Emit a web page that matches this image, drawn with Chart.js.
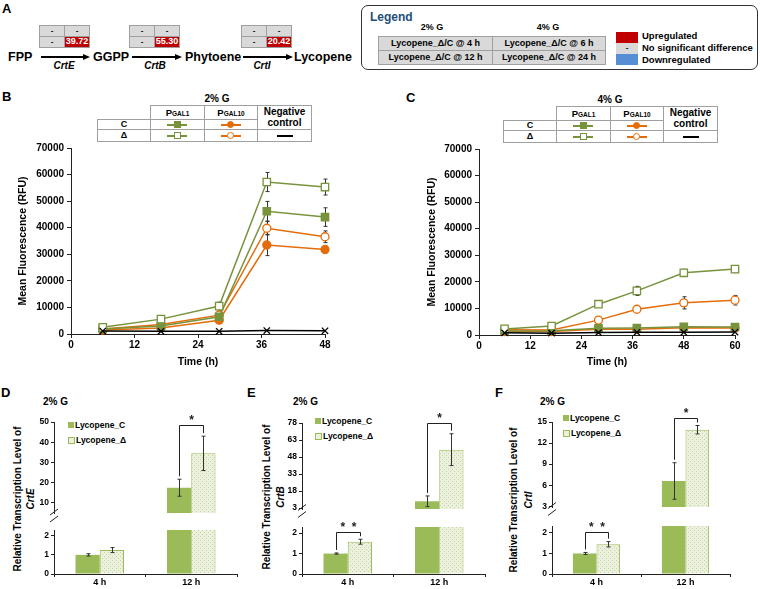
<!DOCTYPE html>
<html>
<head>
<meta charset="utf-8">
<script src="https://cdn.jsdelivr.net/npm/chart.js"></script>
<style>
body { margin: 0; background: #fff; }
#lamina { position: relative; width: 760px; height: 589px; overflow: hidden; font-family: 'Liberation Sans', Arial, sans-serif; color: #000; }
canvas { position: absolute; }
</style>
</head>
<body>
<div id="lamina"></div>
<script>
// ---- datos panel A
var sustratos = ['FPP', 'GGPP', 'Phytoene', 'Lycopene']
var genes = ['CrtE', 'CrtB', 'CrtI']
var cambios = ['39.72', '55.30', '20.42']

// ---- datos panel B (2% G)
var tiempoB = [6, 17, 28, 37, 48]
var gal1C_B = [1900, 3000, 6500, 46200, 44000]
var gal1C_Berr = [200, 300, 700, 3700, 3500]
var gal1D_B = [2500, 5600, 10500, 57200, 55300]
var gal1D_Berr = [300, 500, 1500, 3600, 3000]
var gal10C_B = [1500, 2300, 5200, 33500, 31800]
var gal10C_Berr = [200, 300, 600, 4000, 1300]
var gal10D_B = [1900, 3600, 7100, 39800, 36600]
var gal10D_Berr = [200, 400, 800, 2500, 2200]
var neg_B = [1100, 1000, 1000, 1300, 1200]
var marcasTiempoB = [0, 12, 24, 36, 48]

// ---- datos panel C (4% G)
var tiempoC = [6, 17, 28, 37, 48, 60]
var gal1C_C = [1500, 1600, 2500, 2600, 3100, 3000]
var gal1C_Cerr = [200, 200, 300, 300, 400, 300]
var gal1D_C = [2300, 3400, 11600, 16600, 23400, 24800]
var gal1D_Cerr = [300, 400, 700, 1700, 1300, 1300]
var gal10C_C = [1300, 1300, 2200, 2200, 2700, 2600]
var gal10C_Cerr = [200, 200, 300, 300, 300, 300]
var gal10D_C = [2000, 1900, 5600, 9700, 12100, 13100]
var gal10D_Cerr = [200, 200, 500, 800, 2300, 1800]
var neg_C = [800, 700, 900, 1000, 1000, 1100]
var marcasTiempoC = [0, 12, 24, 36, 48, 60]
var marcasRFU = [0, 10000, 20000, 30000, 40000, 50000, 60000, 70000]

// ---- datos paneles D, E, F (transcripcion relativa)
var muestras = ['4 h', '12 h']
var crtE_C = [1.0, 17.5]
var crtE_Cerr = [0.06, 4.2]
var crtE_D = [1.25, 34.5]
var crtE_Derr = [0.13, 8.5]
var crtE_sig = ['', '*']
var crtE_nivel = [null, 48.7]
var crtE_ticksSup = [10, 20, 30, 40, 50]

var crtB_C = [1.0, 9.0]
var crtB_Cerr = [0.03, 4.7]
var crtB_D = [1.58, 54.5]
var crtB_Derr = [0.12, 14]
var crtB_sig = ['*  *', '*']
var crtB_nivel = [2.06, 78]
var crtB_ticksSup = [3, 18, 33, 48, 63, 78]

var crtI_C = [1.0, 6.6]
var crtI_Cerr = [0.05, 2.6]
var crtI_D = [1.45, 13.9]
var crtI_Derr = [0.13, 0.6]
var crtI_sig = ['*  *', '*']
var crtI_nivel = [2.05, 15.6]
var crtI_ticksSup = [3, 6, 9, 12, 15]

var ticksInf = [0, 1, 2]

var verde = '#77933c'
var naranja = '#e46c0a'
var verdeBarra = '#9bbb59'
var ejeColor = '#222'

var lamina = document.getElementById('lamina')

Chart.defaults.font.family = "'Liberation Sans', Arial, sans-serif"
Chart.defaults.font.weight = 'bold'
Chart.defaults.color = '#000'
Chart.defaults.animation = false

// ---------- ayudas de maquetado
function caja(x, y, w, h, css) {
    var d = document.createElement('div')
    d.style.cssText = 'position:absolute;box-sizing:border-box;left:' + x + 'px;top:' + y + 'px;width:' + w + 'px;height:' + h + 'px;' + (css || '')
    lamina.appendChild(d)
    return d
}

function texto(html, x, y, size, css, centrado) {
    var d = document.createElement('div')
    d.innerHTML = html
    d.style.cssText = 'position:absolute;white-space:nowrap;font-weight:bold;font-size:' + size + 'px;line-height:' + size + 'px;left:' + x + 'px;top:' + (y - size / 2) + 'px;' + (centrado ? 'transform:translateX(-50%);' : '') + (css || '')
    lamina.appendChild(d)
    return d
}

function textoVertical(html, x, y, size, css) {
    var d = document.createElement('div')
    d.innerHTML = html
    d.style.cssText = 'position:absolute;white-space:nowrap;font-weight:bold;font-size:' + size + 'px;line-height:' + size + 'px;left:' + x + 'px;top:' + y + 'px;transform:translate(-50%,-50%) rotate(-90deg);' + (css || '')
    lamina.appendChild(d)
}

function celda(x, y, w, h, html, fondo, color, size, borde) {
    var d = caja(x, y, w, h, 'border:1px solid ' + (borde || '#a0a0a0') + ';background:' + fondo + ';color:' + (color || '#000') + ';display:flex;align-items:center;justify-content:center;font-weight:bold;font-size:' + (size || 8) + 'px;line-height:1.05;text-align:center')
    d.innerHTML = html
    return d
}

function flecha(x1, x2, y) {
    caja(x1, y - 0.75, x2 - x1 - 6, 1.5, 'background:#000')
    var p = document.createElement('div')
    p.style.cssText = 'position:absolute;left:' + (x2 - 7) + 'px;top:' + (y - 3.5) + 'px;width:0;height:0;border-left:7px solid #000;border-top:3.5px solid transparent;border-bottom:3.5px solid transparent'
    lamina.appendChild(p)
}

// ---------- panel A
texto('A', 2, 8, 13)
var tablaX = [39, 129, 241]
var flechaX = [[41, 90], [132, 182], [243, 293]]
var genX = [64, 155, 262]
var sustratoX = [8, 93, 185, 294]
sustratos.forEach(function (s, i) { texto(s, sustratoX[i], 57, 12.5) })
genes.forEach(function (g, i) {
    var tx = tablaX[i]
    celda(tx, 25, 26, 12, '-', '#d9d9d9')
    celda(tx + 25, 25, 26, 12, '-', '#d9d9d9')
    celda(tx, 36, 26, 12, '-', '#d9d9d9')
    celda(tx + 25, 36, 26, 12, cambios[i], '#c00000', '#fff', 9, '#a0a0a0')
    flecha(flechaX[i][0], flechaX[i][1], 57)
    texto(g, genX[i], 66, 10, 'font-style:italic', true)
})

// ---------- leyenda general
caja(361, 5, 397, 65, 'border:1.5px solid #333;border-radius:7px')
texto('Legend', 370, 17, 12, 'color:#1f4e79')
texto('2% G', 432, 27, 9, '', true)
texto('4% G', 548, 27, 9, '', true)
celda(378, 36, 115, 15, 'Lycopene_Δ/C @ 4 h', '#d9d9d9', '#000', 9)
celda(492, 36, 114, 15, 'Lycopene_Δ/C @ 6 h', '#d9d9d9', '#000', 9)
celda(378, 50, 115, 15, 'Lycopene_Δ/C @ 12 h', '#d9d9d9', '#000', 9)
celda(492, 50, 114, 15, 'Lycopene_Δ/C @ 24 h', '#d9d9d9', '#000', 9)
caja(616, 32, 22, 11, 'background:#c00000')
celda(616, 43, 22, 11, '-', '#d9d9d9', '#000', 8, '#d9d9d9')
caja(616, 54, 22, 11, 'background:#558ed5')
texto('Upregulated', 642, 36, 9.5)
texto('No significant difference', 642, 48, 9.5)
texto('Downregulated', 642, 60, 9.5)

// ---------- tablas de leyenda B y C
function marcaSerie(cx, cy, color, forma, relleno) {
    caja(cx - 10, cy - 1, 20, 2, 'background:' + color)
    caja(cx - 3.5, cy - 3.5, 7, 7, 'background:' + relleno + ';border:1.3px solid ' + color + (forma == 'circulo' ? ';border-radius:50%' : ''))
}

function tablaLeyenda(x0, y0, titulo, tituloX) {
    var a = [53, 54, 53, 55], h = [14, 10, 13]
    var xs = [x0, x0 + 53, x0 + 107, x0 + 160]
    var ys = [y0, y0 + 14, y0 + 24]
    texto(titulo, tituloX, y0 - 6, 10, '', true)
    var sub = function (t) { return 'P<span style="font-size:6.5px;position:relative;top:2px">' + t + '</span>' }
    celda(xs[0], ys[1], a[0] + 1, h[1] + 1, 'C', '#fff', '#000', 9)
    celda(xs[0], ys[2], a[0] + 1, h[2], 'Δ', '#fff', '#000', 9)
    celda(xs[1], ys[0], a[1] + 1, h[0] + 1, sub('GAL1'), '#fff', '#000', 9.5)
    celda(xs[2], ys[0], a[2] + 1, h[0] + 1, sub('GAL10'), '#fff', '#000', 9.5)
    celda(xs[3], ys[0], a[3], h[0] + h[1] + 1, 'Negative<br>control', '#fff', '#000', 10)
    celda(xs[1], ys[1], a[1] + 1, h[1] + 1, '', '#fff')
    celda(xs[2], ys[1], a[2] + 1, h[1] + 1, '', '#fff')
    celda(xs[1], ys[2], a[1] + 1, h[2], '', '#fff')
    celda(xs[2], ys[2], a[2] + 1, h[2], '', '#fff')
    celda(xs[3], ys[2], a[3], h[2], '', '#fff')
    var c1 = xs[1] + a[1] / 2, c2 = xs[2] + a[2] / 2, c3 = xs[3] + a[3] / 2
    var f1 = ys[1] + h[1] / 2 + 0.5, f2 = ys[2] + h[2] / 2
    marcaSerie(c1, f1, verde, 'cuadro', verde)
    marcaSerie(c1, f2, verde, 'cuadro', '#fff')
    marcaSerie(c2, f1, naranja, 'circulo', naranja)
    marcaSerie(c2, f2, naranja, 'circulo', '#fff')
    caja(c3 - 8, f2 - 1, 16, 2, 'background:#000')
}

texto('B', 2, 96, 13)
texto('C', 406, 97, 13)
tablaLeyenda(97, 105, '2% G', 217)
tablaLeyenda(503, 106, '4% G', 610)

// ---------- plugins
function dibujarErrores(chart) {
    var ctx = chart.ctx, area = chart.chartArea, ejeY = chart.scales.y
    ctx.save()
    ctx.beginPath()
    ctx.rect(area.left - 6, area.top - 1, area.right - area.left + 12, area.bottom - area.top + 1)
    ctx.clip()
    ctx.strokeStyle = '#333'
    ctx.lineWidth = 1
    chart.data.datasets.forEach(function (ds, i) {
        if (!ds.errores) return
        var meta = chart.getDatasetMeta(i)
        meta.data.forEach(function (el, j) {
            var v = typeof ds.data[j] == 'object' ? ds.data[j].y : ds.data[j]
            var e = ds.errores[j]
            var x = Math.round(el.x) + 0.5
            var y1 = ejeY.getPixelForValue(v + e), y2 = ejeY.getPixelForValue(v - e)
            ctx.beginPath()
            ctx.moveTo(x, y1); ctx.lineTo(x, y2)
            ctx.moveTo(x - 2, y1); ctx.lineTo(x + 2, y1)
            ctx.moveTo(x - 2, y2); ctx.lineTo(x + 2, y2)
            ctx.stroke()
        })
    })
    ctx.restore()
}

var barrasError = {
    id: 'barrasError',
    beforeDatasetsDraw: function (chart, args, op) { if (!op.encima) dibujarErrores(chart) },
    afterDatasetsDraw: function (chart, args, op) { if (op.encima) dibujarErrores(chart) }
}

var corchetes = {
    id: 'corchetes',
    afterDatasetsDraw: function (chart, args, op) {
        if (!op.marcas) return
        var ctx = chart.ctx, ejeY = chart.scales.y, area = chart.chartArea
        var d0 = chart.data.datasets[0], d1 = chart.data.datasets[1]
        var m0 = chart.getDatasetMeta(0), m1 = chart.getDatasetMeta(1)
        ctx.save()
        ctx.strokeStyle = '#222'
        ctx.fillStyle = '#222'
        ctx.lineWidth = 1
        ctx.font = "bold 12px 'Liberation Sans', Arial"
        ctx.textAlign = 'center'
        op.marcas.forEach(function (s, j) {
            var nivel = op.niveles[j]
            if (!s) return
            if (op.parte == 'sup' && nivel < ejeY.min) return
            if (op.parte == 'inf' && nivel > ejeY.max) return
            var yn = Math.round(ejeY.getPixelForValue(nivel)) + 0.5
            var xa = Math.round(m0.data[j].x) + 0.5, xb = Math.round(m1.data[j].x) + 0.5
            var ya = Math.min(ejeY.getPixelForValue(d0.data[j] + d0.errores[j]) - 3, area.bottom)
            var yb = Math.min(ejeY.getPixelForValue(d1.data[j] + d1.errores[j]) - 3, area.bottom)
            ctx.beginPath()
            ctx.moveTo(xa, ya); ctx.lineTo(xa, yn); ctx.lineTo(xb, yn); ctx.lineTo(xb, yb)
            ctx.stroke()
            ctx.fillText(s, (xa + xb) / 2, yn - 2)
        })
        ctx.restore()
    }
}

var grieta = {
    id: 'grieta',
    afterDraw: function (chart, args, op) {
        if (!op.hueco) return
        var ctx = chart.ctx, x = chart.chartArea.left, c = chart.chartArea.bottom + op.hueco / 2
        ctx.save()
        ctx.strokeStyle = ejeColor
        ctx.lineWidth = 1
        ctx.beginPath()
        ctx.moveTo(x - 4, c - 1); ctx.lineTo(x + 4, c - 7)
        ctx.moveTo(x - 4, c + 6); ctx.lineTo(x + 4, c)
        ctx.stroke()
        ctx.restore()
    }
}

function crearLienzo(x, y, w, h) {
    var c = document.createElement('canvas')
    c.width = w
    c.height = h
    c.style.left = x + 'px'
    c.style.top = y + 'px'
    c.style.width = w + 'px'
    c.style.height = h + 'px'
    lamina.appendChild(c)
    return c
}

// ---------- graficas de lineas B y C
function serie(tiempos, valores, errores, color, forma, relleno, radio) {
    return {
        data: tiempos.map(function (t, i) { return { x: t, y: valores[i] } }),
        errores: errores,
        borderColor: color,
        backgroundColor: relleno,
        pointBackgroundColor: relleno,
        pointBorderColor: color,
        pointStyle: forma,
        pointRadius: radio,
        pointBorderWidth: 1.3,
        borderWidth: 1.5,
        clip: false
    }
}

function graficaLineas(cj, area, series, marcasX, padTitulo) {
    var lienzo = crearLienzo(cj[0], cj[1], cj[2], cj[3])
    return new Chart(lienzo, {
        type: 'line',
        data: { datasets: series },
        options: {
            responsive: false,
            layout: { padding: { left: 0, top: area[1] - cj[1], right: cj[0] + cj[2] - area[2], bottom: 0 } },
            plugins: { legend: { display: false }, tooltip: { enabled: false }, barrasError: { encima: false } },
            scales: {
                x: {
                    type: 'linear', min: marcasX[0], max: marcasX[marcasX.length - 1],
                    afterBuildTicks: function (s) { s.ticks = marcasX.map(function (v) { return { value: v } }) },
                    afterFit: function (s) { s.height = cj[1] + cj[3] - area[3] },
                    ticks: { font: { size: 10 }, padding: 1, callback: function (v) { return String(v) } },
                    grid: { drawOnChartArea: false, tickLength: 4, color: ejeColor },
                    border: { color: ejeColor },
                    title: { display: true, text: 'Time (h)', font: { size: 10.5 }, padding: { top: 0, bottom: 2 } }
                },
                y: {
                    min: 0, max: 70000,
                    afterBuildTicks: function (s) { s.ticks = marcasRFU.map(function (v) { return { value: v } }) },
                    afterFit: function (s) { s.width = area[0] - cj[0] },
                    ticks: { font: { size: 10 }, padding: 3, callback: function (v) { return String(v) } },
                    grid: { drawOnChartArea: false, tickLength: 4, color: ejeColor },
                    border: { color: ejeColor },
                    title: { display: true, text: 'Mean Fluorescence (RFU)', font: { size: 10.5 }, padding: { top: padTitulo, bottom: 0 } }
                }
            }
        },
        plugins: [barrasError]
    })
}

graficaLineas([0, 135, 345, 235], [71, 148, 325, 334], [
    serie(tiempoB, neg_B, null, '#000', 'crossRot', '#000', 4.5),
    serie(tiempoB, gal1D_B, gal1D_Berr, verde, 'rect', '#fff', 5.2),
    serie(tiempoB, gal1C_B, gal1C_Berr, verde, 'rect', verde, 5.2),
    serie(tiempoB, gal10D_B, gal10D_Berr, naranja, 'circle', '#fff', 4),
    serie(tiempoB, gal10C_B, gal10C_Berr, naranja, 'circle', naranja, 4)
], marcasTiempoB, 17)

graficaLineas([380, 135, 378, 235], [479, 149, 735, 335], [
    serie(tiempoC, neg_C, null, '#000', 'crossRot', '#000', 4.5),
    serie(tiempoC, gal1D_C, gal1D_Cerr, verde, 'rect', '#fff', 5.2),
    serie(tiempoC, gal1C_C, gal1C_Cerr, verde, 'rect', verde, 5.2),
    serie(tiempoC, gal10D_C, gal10D_Cerr, naranja, 'circle', '#fff', 4),
    serie(tiempoC, gal10C_C, gal10C_Cerr, naranja, 'circle', naranja, 4)
], marcasTiempoC, 46)

// ---------- graficas de barras con eje cortado D, E, F
function crearTrama(ctx) {
    var p = document.createElement('canvas')
    p.width = 4
    p.height = 4
    var c = p.getContext('2d')
    c.fillStyle = '#ebf1de'
    c.fillRect(0, 0, 4, 4)
    c.fillStyle = '#c3d69b'
    c.fillRect(0, 0, 1, 1)
    c.fillRect(2, 2, 1, 1)
    return ctx.createPattern(p, 'repeat')
}

function graficaBarras(cj, area, min, max, marcasY, panel, parte, hueco) {
    var lienzo = crearLienzo(cj[0], cj[1], cj[2], cj[3])
    var inferior = parte == 'inf'
    return new Chart(lienzo, {
        type: 'bar',
        data: {
            labels: muestras,
            datasets: [
                { label: 'Lycopene_C', data: panel.c, errores: panel.errC, backgroundColor: verdeBarra, borderWidth: 0, clip: 0 },
                { label: 'Lycopene_Δ', data: panel.d, errores: panel.errD, backgroundColor: crearTrama(lienzo.getContext('2d')), borderColor: verdeBarra, borderWidth: 1, clip: 0 }
            ]
        },
        options: {
            responsive: false,
            categoryPercentage: 0.53,
            barPercentage: 1,
            layout: { padding: { left: 0, top: area[1] - cj[1], right: cj[0] + cj[2] - area[2], bottom: inferior ? 0 : cj[1] + cj[3] - area[3] } },
            plugins: {
                legend: { display: false }, tooltip: { enabled: false },
                barrasError: { encima: true },
                corchetes: { marcas: panel.sig, niveles: panel.nivel, parte: parte },
                grieta: { hueco: inferior ? 0 : hueco }
            },
            scales: {
                x: {
                    display: inferior,
                    afterFit: function (s) { s.height = cj[1] + cj[3] - area[3] },
                    ticks: { font: { size: 9 }, padding: 0 },
                    grid: { drawOnChartArea: false, tickLength: 3, color: ejeColor },
                    border: { color: ejeColor }
                },
                y: {
                    min: min, max: max,
                    afterBuildTicks: function (s) { s.ticks = marcasY.map(function (v) { return { value: v } }) },
                    afterFit: function (s) { s.width = area[0] - cj[0] },
                    ticks: { font: { size: 8.5 }, padding: 2, callback: function (v) { return String(v) } },
                    grid: { drawOnChartArea: false, tickLength: 3, color: ejeColor },
                    border: { color: ejeColor }
                }
            }
        },
        plugins: [barrasError, corchetes, grieta]
    })
}

function panelBarras(letra, lx, gen, panel, cfg) {
    texto(letra, lx, 392, 13)
    texto('2% G', cfg.tituloX, 402, 10)
    textoVertical('Relative Transcription Level of', cfg.ejeX[0], cfg.ejeY, 10)
    textoVertical('<i>' + gen + '</i>', cfg.ejeX[1], cfg.ejeY, 10)
    // leyenda
    caja(cfg.ley[0], cfg.ley[1] - 3, 6, 6, 'background:' + verdeBarra)
    texto('Lycopene_C', cfg.ley[0] + 7, cfg.ley[1], 8.5)
    caja(cfg.ley[0], cfg.ley[1] + 15 - 3.5, 7, 7, 'background:#ebf1de;border:1px solid ' + verdeBarra)
    texto('Lycopene_Δ', cfg.ley[0] + 8, cfg.ley[1] + 15, 8.5)
    graficaBarras(cfg.cajaSup, cfg.areaSup, cfg.minSup, cfg.maxSup, cfg.ticksSup, panel, 'sup', cfg.hueco)
    graficaBarras(cfg.cajaInf, cfg.areaInf, 0, cfg.maxInf, ticksInf, panel, 'inf', cfg.hueco)
}

panelBarras('D', 1, 'CrtE',
    { c: crtE_C, errC: crtE_Cerr, d: crtE_D, errD: crtE_Derr, sig: crtE_sig, nivel: crtE_nivel },
    { tituloX: 43, ejeX: [18, 31], ejeY: 499, ley: [68, 425],
      cajaSup: [0, 395, 245, 140], areaSup: [54, 422, 237, 524], minSup: 5, maxSup: 50, ticksSup: crtE_ticksSup,
      cajaInf: [0, 520, 245, 69], areaInf: [54, 530, 237, 574], maxInf: 2.3, hueco: 6 })

panelBarras('E', 247, 'CrtB',
    { c: crtB_C, errC: crtB_Cerr, d: crtB_D, errD: crtB_Derr, sig: crtB_sig, nivel: crtB_nivel },
    { tituloX: 293, ejeX: [267, 281], ejeY: 497, ley: [315, 421],
      cajaSup: [250, 395, 245, 140], areaSup: [302, 423, 485, 522], minSup: 2.2, maxSup: 78, ticksSup: crtB_ticksSup,
      cajaInf: [250, 517, 245, 72], areaInf: [302, 527, 485, 574], maxInf: 2.3, hueco: 5 })

panelBarras('F', 495, 'CrtI',
    { c: crtI_C, errC: crtI_Cerr, d: crtI_D, errD: crtI_Derr, sig: crtI_sig, nivel: crtI_nivel },
    { tituloX: 540, ejeX: [514, 529], ejeY: 500, ley: [563, 418],
      cajaSup: [500, 395, 255, 140], areaSup: [552, 422, 730, 521], minSup: 2.9, maxSup: 15, ticksSup: crtI_ticksSup,
      cajaInf: [500, 516, 255, 73], areaInf: [552, 526, 730, 574], maxInf: 2.34, hueco: 5 })
</script>
</body>
</html>
